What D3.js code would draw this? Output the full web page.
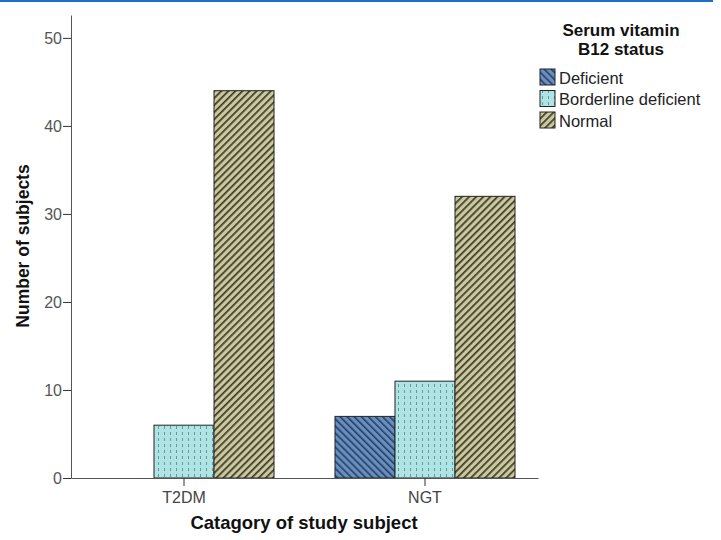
<!DOCTYPE html>
<html><head><meta charset="utf-8">
<script src="https://cdn.jsdelivr.net/npm/d3@7"></script>
<style>body{margin:0;background:#fff}svg{display:block}text{font-family:Arial,"Liberation Sans",sans-serif}</style>
</head><body>
<script>
const categories = ["T2DM", "NGT"];
const statuses = ["Deficient", "Borderline deficient", "Normal"];
const deficient = [0, 7];
const borderline = [6, 11];
const normal = [44, 32];
const yTicks = [0, 10, 20, 30, 40, 50];

const W = 721, H = 540;
const svg = d3.select("body").append("svg").attr("width", W).attr("height", H);
const defs = svg.append("defs");

// patterns
const p1 = defs.append("pattern").attr("id","pDef").attr("patternUnits","userSpaceOnUse").attr("width",5).attr("height",5).attr("patternTransform","rotate(-45)");
p1.append("rect").attr("width",5).attr("height",5).attr("fill","#6a8fbf");
p1.append("rect").attr("width",1.6).attr("height",5).attr("fill","#233f66");
const p2 = defs.append("pattern").attr("id","pBor").attr("patternUnits","userSpaceOnUse").attr("width",6).attr("height",6);
p2.append("rect").attr("width",6).attr("height",6).attr("fill","#b0e3e3");
p2.append("rect").attr("x",2).attr("y",0).attr("width",1).attr("height",3).attr("fill","#5f9a9e");
const p3 = defs.append("pattern").attr("id","pNor").attr("patternUnits","userSpaceOnUse").attr("width",5).attr("height",5).attr("patternTransform","rotate(45)");
p3.append("rect").attr("width",5).attr("height",5).attr("fill","#cbc89c");
p3.append("rect").attr("width",1.7).attr("height",5).attr("fill","#3b3a2c");
const fills = {"Deficient":"url(#pDef)","Borderline deficient":"url(#pBor)","Normal":"url(#pNor)"};

// top blue line
svg.append("rect").attr("x",0).attr("y",0).attr("width",713).attr("height",2).attr("fill","#1b6fc6");

const x0 = d3.scaleBand().domain(categories).range([71, 538]).paddingInner(0.253).paddingOuter(0.0954);
const x1 = d3.scaleBand().domain(statuses).range([0, x0.bandwidth()]);
const y = d3.scaleLinear().domain([0, 52.6]).range([478, 15]);

const data = categories.map((c,i)=>({cat:c, vals:[deficient[i], borderline[i], normal[i]]}));

const g = svg.append("g");
data.forEach(d=>{
  d.vals.forEach((v,j)=>{
    if (v<=0) return;
    g.append("rect")
      .attr("x", x0(d.cat)+x1(statuses[j]))
      .attr("y", y(v))
      .attr("width", x1.bandwidth())
      .attr("height", y(0)-y(v))
      .attr("fill", fills[statuses[j]])
      .attr("stroke","#222").attr("stroke-width",1);
  });
});

// y axis
const yAxis = svg.append("g").attr("transform","translate(71,0)")
  .call(d3.axisLeft(y).tickValues(yTicks).tickSize(8).tickSizeOuter(0).tickFormat(d3.format("d")));
yAxis.select(".domain").attr("stroke","#555");
yAxis.selectAll(".tick line").attr("stroke","#333");
yAxis.selectAll(".tick text").attr("font-size",16).attr("fill","#555").attr("x",-9);

// x axis
const xAxis = svg.append("g").attr("transform","translate(0,478)")
  .call(d3.axisBottom(x0).tickSize(8).tickSizeOuter(0));
xAxis.select(".domain").attr("stroke","#555");
xAxis.selectAll(".tick line").attr("stroke","#333");
xAxis.selectAll(".tick text").attr("font-size",16).attr("fill","#444").attr("y",10).attr("dy","0.95em");

// axis titles
svg.append("text").attr("x",304).attr("y",529).attr("text-anchor","middle")
  .attr("font-size",18.5).attr("font-weight","bold").attr("fill","#111").text("Catagory of study subject");
svg.append("text").attr("transform","translate(29,246) rotate(-90)").attr("text-anchor","middle")
  .attr("font-size",17.5).attr("font-weight","bold").attr("fill","#111").text("Number of subjects");

// legend
const lg = svg.append("g");
lg.append("text").attr("x",621).attr("y",36).attr("text-anchor","middle").attr("font-size",17).attr("font-weight","bold").attr("fill","#111").text("Serum vitamin");
lg.append("text").attr("x",621).attr("y",55).attr("text-anchor","middle").attr("font-size",17).attr("font-weight","bold").attr("fill","#111").text("B12 status");
statuses.forEach((s,i)=>{
  const yy = 69 + i*21.5;
  lg.append("rect").attr("x",540).attr("y",yy).attr("width",15).attr("height",16).attr("fill",fills[s]).attr("stroke","#222");
  lg.append("text").attr("x",559).attr("y",yy+14.5).attr("font-size",16.5).attr("fill","#222").text(s);
});
</script>
</body></html>
